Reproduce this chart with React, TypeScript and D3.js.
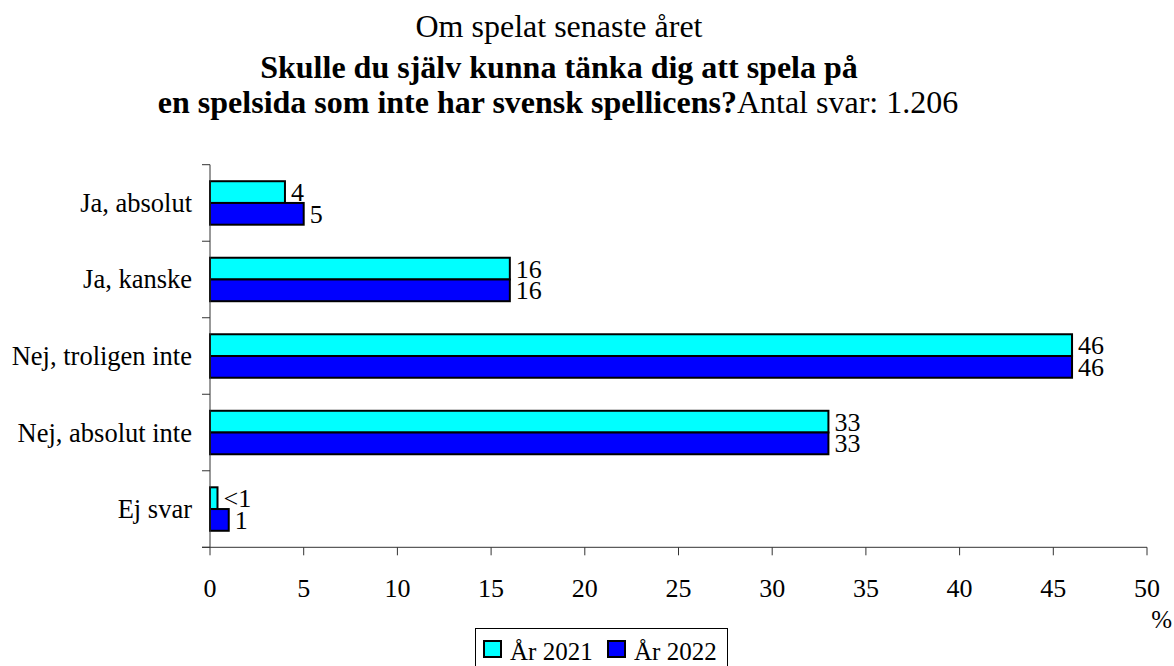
import React from 'react';
import * as d3 from 'd3';

const categories = ['Ja, absolut', 'Ja, kanske', 'Nej, troligen inte', 'Nej, absolut inte', 'Ej svar'];
const series = ['År 2021', 'År 2022'];
const values2021 = [4, 16, 46, 33, 0.4];
const values2022 = [5, 16, 46, 33, 1];
const labels2021 = ['4', '16', '46', '33', '<1'];
const labels2022 = ['5', '16', '46', '33', '1'];
const xTicks = [0, 5, 10, 15, 20, 25, 30, 35, 40, 45, 50];
const colors = ['#00FFFF', '#0000FF'];

const W = 1174;
const H = 666;
const font = "'Times New Roman', 'Liberation Serif', Times, serif";

const App: React.FC = () => {
  const x = d3.scaleLinear().domain([0, 50]).range([210, 1147]);
  const y = d3.scaleBand<string>().domain(categories).range([164.7, 547.3]).padding(0);
  const sub = d3.scaleBand<string>().domain(series).range([0, y.bandwidth()]).paddingInner(0).paddingOuter(0.76);

  const rows = categories.map((c, i) => ({
    cat: c,
    bars: [
      { s: series[0], v: values2021[i], label: labels2021[i], color: colors[0] },
      { s: series[1], v: values2022[i], label: labels2022[i], color: colors[1] },
    ],
  }));

  const [y0, y1] = y.range();
  const axisColor = '#333';

  return (
    <svg width={W} height={H} style={{ position: 'absolute', left: 0, top: 0 }}>
      <rect width={W} height={H} fill="#fff" />
      <g fontFamily={font} fill="#000">
        {/* Title */}
        <text x={559} y={37} textAnchor="middle" fontSize={32}>Om spelat senaste året</text>
        <text x={559} y={78} textAnchor="middle" fontSize={32} fontWeight="bold">
          Skulle du själv kunna tänka dig att spela på
        </text>
        <text x={558} y={113} textAnchor="middle" fontSize={32}>
          <tspan fontWeight="bold">en spelsida som inte har svensk spellicens?</tspan>
          <tspan>Antal svar: 1.206</tspan>
        </text>

        {/* Bars */}
        {rows.map(r => (
          <g key={r.cat}>
            {r.bars.map(b => {
              const by = y(r.cat)! + sub(b.s)!;
              return (
                <g key={b.s}>
                  <rect x={x(0)} y={by} width={x(b.v) - x(0)} height={sub.bandwidth()}
                    fill={b.color} stroke="#000" strokeWidth={2} />
                  <text x={x(b.v) + 6} y={by + sub.bandwidth() / 2 + 9} fontSize={26}>{b.label}</text>
                </g>
              );
            })}
            <text x={192} y={y(r.cat)! + y.bandwidth() / 2 + 9} textAnchor="end" fontSize={26.5}>{r.cat}</text>
          </g>
        ))}

        {/* Y axis */}
        <line x1={x(0)} x2={x(0)} y1={y0} y2={y1} stroke={axisColor} strokeWidth={1} />
        {d3.range(categories.length + 1).map(i => {
          const ty = y0 + i * y.step();
          return <line key={i} x1={x(0) - 8} x2={x(0)} y1={ty} y2={ty} stroke={axisColor} strokeWidth={1} />;
        })}

        {/* X axis */}
        <line x1={x(0) - 8} x2={x(50)} y1={y1} y2={y1} stroke={axisColor} strokeWidth={1} />
        {xTicks.map(t => (
          <g key={t}>
            <line x1={x(t)} x2={x(t)} y1={y1} y2={y1 + 8} stroke={axisColor} strokeWidth={1} />
            <text x={x(t)} y={597} textAnchor="middle" fontSize={26}>{t}</text>
          </g>
        ))}
        <text x={1172} y={628} textAnchor="end" fontSize={25}>%</text>

        {/* Legend */}
        <rect x={475.5} y={628.5} width={252} height={50} fill="#fff" stroke="#000" strokeWidth={1} />
        {series.map((s, i) => {
          const lx = i === 0 ? 483 : 607;
          return (
            <g key={s}>
              <rect x={lx + 1} y={641} width={17} height={16} fill={colors[i]} stroke="#000" strokeWidth={2} />
              <text x={lx + 27} y={660} fontSize={25}>{s}</text>
            </g>
          );
        })}
      </g>
    </svg>
  );
};

export default App;
